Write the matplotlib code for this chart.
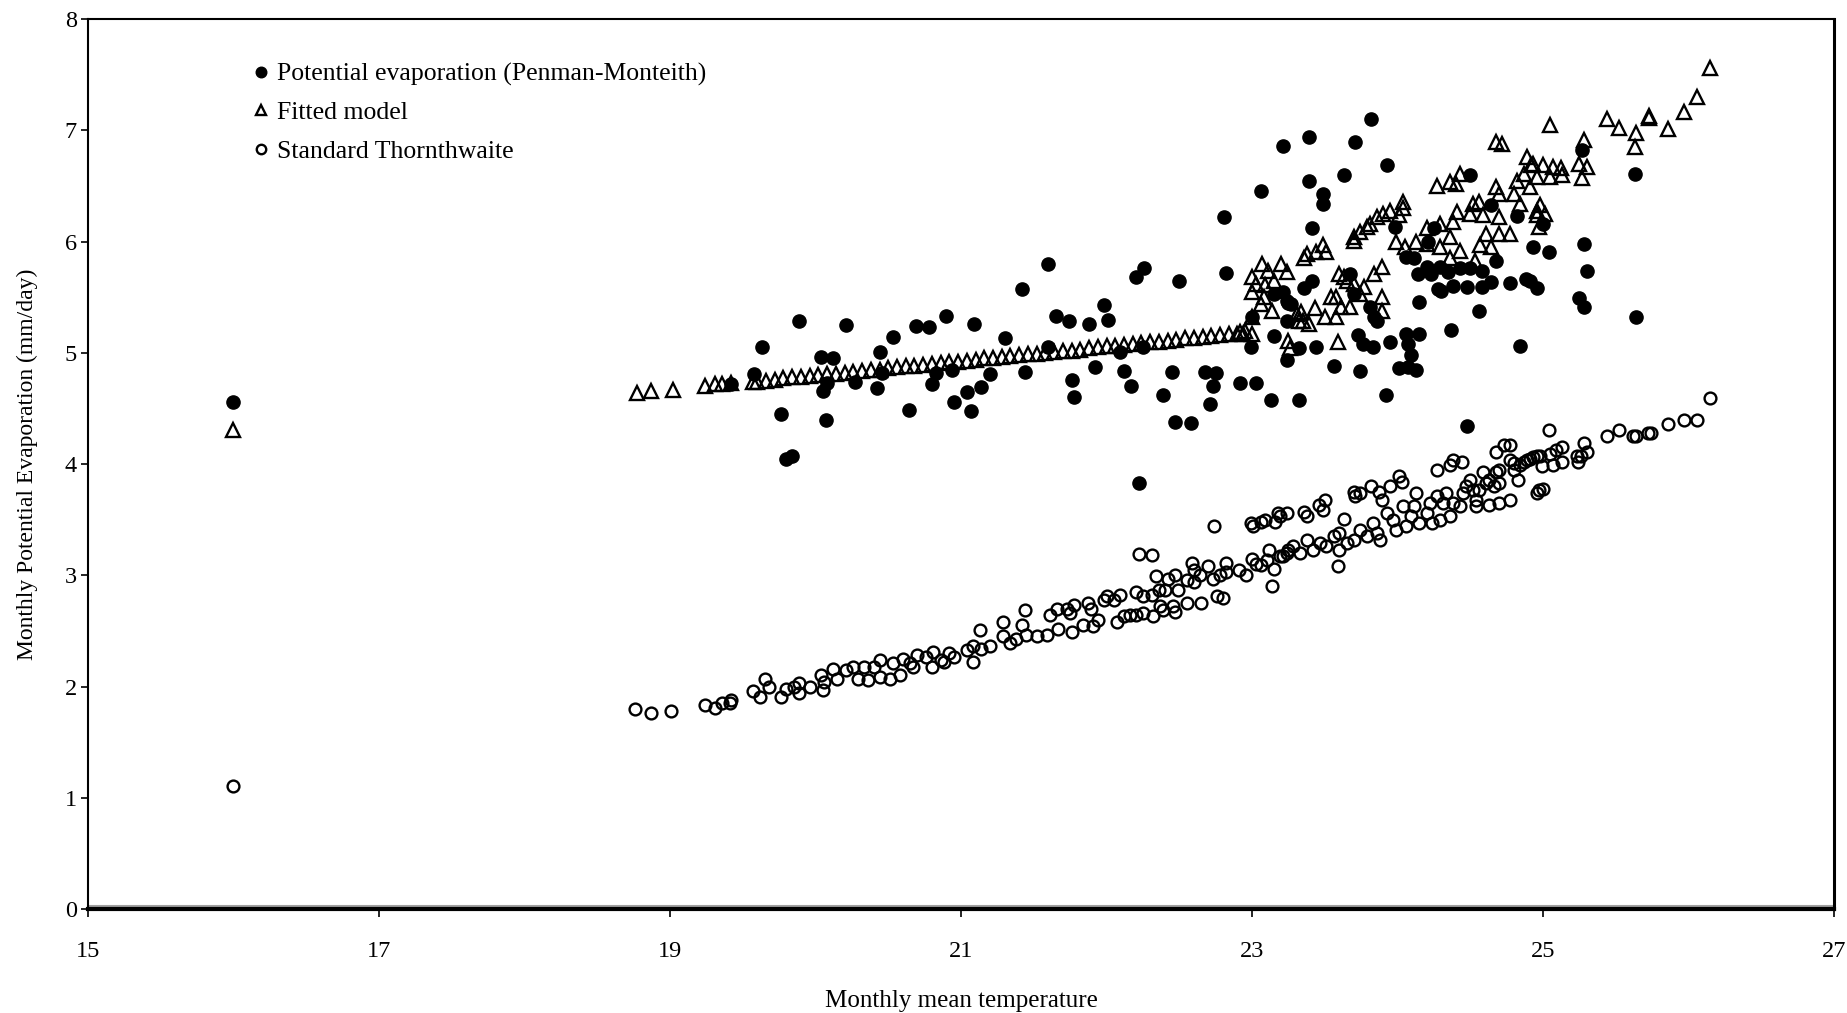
import matplotlib
matplotlib.use("Agg")
import matplotlib.pyplot as plt

plt.rcParams["font.family"] = ["Liberation Serif", "DejaVu Serif"]

# Potential evaporation (Penman-Monteith)
pm_t = [16.00, 19.42, 19.58, 19.63, 19.76, 19.80, 19.84, 19.89, 20.04, 20.05,
        20.07, 20.08, 20.12, 20.21, 20.27, 20.42, 20.44, 20.46, 20.53, 20.64,
        20.69, 20.78, 20.80, 20.83, 20.90, 20.94, 20.95, 21.04, 21.07, 21.09,
        21.14, 21.20, 21.30, 21.42, 21.44, 21.60, 21.60, 21.65, 21.74, 21.76,
        21.78, 21.88, 21.92, 21.98, 22.01, 22.09, 22.12, 22.17, 22.20, 22.22,
        22.25, 22.26, 22.39, 22.45, 22.47, 22.50, 22.58, 22.68, 22.71, 22.73,
        22.75, 22.81, 22.82, 22.92, 22.99, 23.00, 23.03, 23.06, 23.13, 23.15,
        23.15, 23.21, 23.21, 23.24, 23.24, 23.24, 23.25, 23.27, 23.32, 23.32,
        23.36, 23.39, 23.39, 23.41, 23.41, 23.44, 23.49, 23.49, 23.56, 23.63,
        23.67, 23.70, 23.71, 23.73, 23.74, 23.76, 23.81, 23.82, 23.83, 23.84,
        23.86, 23.92, 23.93, 23.95, 23.98, 24.01, 24.06, 24.06, 24.07, 24.07,
        24.09, 24.11, 24.13, 24.14, 24.15, 24.15, 24.20, 24.21, 24.23, 24.25,
        24.28, 24.29, 24.30, 24.35, 24.37, 24.38, 24.43, 24.48, 24.48, 24.50,
        24.50, 24.56, 24.58, 24.58, 24.64, 24.64, 24.68, 24.77, 24.82, 24.84,
        24.88, 24.91, 24.93, 24.96, 25.00, 25.04, 25.25, 25.27, 25.28, 25.28,
        25.30, 25.63, 25.64]
pm_e = [4.56, 4.72, 4.81, 5.05, 4.45, 4.05, 4.07, 5.29, 4.96, 4.66,
        4.40, 4.73, 4.95, 5.25, 4.74, 4.68, 5.01, 4.82, 5.14, 4.49,
        5.24, 5.23, 4.72, 4.82, 5.33, 4.85, 4.56, 4.65, 4.48, 5.26,
        4.69, 4.81, 5.13, 5.57, 4.83, 5.80, 5.05, 5.33, 5.29, 4.76,
        4.60, 5.26, 4.87, 5.43, 5.30, 5.01, 4.84, 4.70, 5.68, 3.83,
        5.05, 5.76, 4.62, 4.83, 4.38, 5.65, 4.37, 4.83, 4.54, 4.70,
        4.82, 6.22, 5.72, 4.73, 5.05, 5.32, 4.73, 6.46, 4.58, 5.15,
        5.53, 5.55, 6.86, 5.47, 5.29, 4.94, 5.45, 5.44, 4.58, 5.04,
        5.58, 6.94, 6.55, 5.65, 6.12, 5.05, 6.43, 6.34, 4.88, 6.60,
        5.71, 5.53, 6.90, 5.16, 4.84, 5.08, 5.41, 7.10, 5.05, 5.32,
        5.29, 4.62, 6.69, 5.10, 6.13, 4.86, 5.17, 5.86, 5.08, 4.87,
        4.98, 5.85, 4.85, 5.71, 5.17, 5.46, 5.77, 6.00, 5.71, 6.12,
        5.57, 5.77, 5.56, 5.73, 5.21, 5.60, 5.76, 5.59, 4.34, 5.76,
        6.60, 5.38, 5.74, 5.59, 5.64, 6.33, 5.83, 5.63, 6.23, 5.06,
        5.66, 5.65, 5.95, 5.58, 6.16, 5.91, 5.49, 6.82, 5.98, 5.41,
        5.74, 6.61, 5.32]

# Fitted model
fm_t = [16.00, 18.77, 18.87, 19.02, 19.24, 19.31, 19.36, 19.42, 19.57,
        19.60, 19.66, 19.72, 19.78, 19.84, 19.90, 19.96, 20.02, 20.08, 20.14,
        20.20, 20.26, 20.32, 20.38, 20.44, 20.50, 20.56, 20.62, 20.68, 20.74,
        20.80, 20.86, 20.92, 20.98, 21.04, 21.10, 21.16, 21.22, 21.28, 21.34,
        21.40, 21.46, 21.52, 21.58, 21.64, 21.70, 21.76, 21.82, 21.88, 21.94,
        22.00, 22.06, 22.12, 22.18, 22.24, 22.30, 22.36, 22.42, 22.48, 22.54,
        22.60, 22.66, 22.72, 22.78, 22.84, 22.90, 22.92, 22.95, 23.00,
        22.94, 23.00, 23.00, 23.00, 23.03, 23.06, 23.07, 23.08, 23.09, 23.11,
        23.14, 23.15, 23.20, 23.24, 23.25, 23.26, 23.31, 23.32, 23.34, 23.35,
        23.36, 23.38, 23.39, 23.43, 23.44, 23.49, 23.50, 23.51, 23.54, 23.58,
        23.58, 23.59, 23.60, 23.61, 23.63, 23.65, 23.67, 23.70, 23.70, 23.70,
        23.74, 23.74, 23.77, 23.79, 23.81, 23.84, 23.86, 23.89, 23.89, 23.89,
        23.90, 23.95, 23.99, 24.01, 24.04, 24.04, 24.05, 24.13, 24.20, 24.20,
        24.27, 24.29, 24.29, 24.36, 24.36, 24.36, 24.38, 24.40, 24.41, 24.43,
        24.43, 24.50, 24.52, 24.53, 24.56, 24.57, 24.59, 24.61, 24.64, 24.68,
        24.68, 24.70, 24.70, 24.70, 24.72, 24.77, 24.80, 24.82, 24.84, 24.87,
        24.89, 24.91, 24.92, 24.93, 24.96, 24.96, 24.96, 24.97, 24.98, 25.00,
        25.01, 25.05, 25.05, 25.07, 25.12, 25.13, 25.25, 25.27, 25.28, 25.30,
        25.44, 25.52, 25.63, 25.64, 25.73, 25.73, 25.86, 25.97, 26.06, 26.15]
fm_e = [4.31, 4.64, 4.66, 4.67, 4.70, 4.72, 4.72, 4.73, 4.74,
        4.74, 4.75, 4.76, 4.77, 4.78, 4.78, 4.79, 4.80, 4.81, 4.81,
        4.82, 4.83, 4.84, 4.85, 4.85, 4.86, 4.87, 4.88, 4.88, 4.89,
        4.90, 4.91, 4.92, 4.92, 4.93, 4.94, 4.95, 4.95, 4.96, 4.97,
        4.98, 4.99, 4.99, 5.00, 5.01, 5.02, 5.02, 5.03, 5.04, 5.05,
        5.06, 5.06, 5.07, 5.08, 5.09, 5.10, 5.10, 5.11, 5.12, 5.13,
        5.13, 5.14, 5.15, 5.16, 5.17, 5.17, 5.19, 5.20, 5.17,
        5.17, 5.32, 5.55, 5.68, 5.62, 5.44, 5.80, 5.50, 5.61, 5.74,
        5.38, 5.65, 5.80, 5.73, 5.11, 5.04, 5.35, 5.29, 5.37, 5.29,
        5.85, 5.89, 5.26, 5.40, 5.91, 5.97, 5.32, 5.91, 5.50, 5.50,
        5.32, 5.10, 5.71, 5.41, 5.68, 5.65, 5.41, 5.62, 6.04, 6.01,
        6.09, 5.53, 5.59, 6.13, 6.16, 5.71, 6.22, 5.77, 5.50, 5.38,
        6.25, 6.28, 6.00, 6.24, 6.36, 6.30, 5.95, 6.00, 5.98, 6.12,
        6.50, 5.95, 6.16, 6.54, 6.04, 5.85, 6.18, 6.52, 6.27, 6.61,
        5.92, 6.25, 6.34, 5.83, 6.36, 5.97, 6.24, 6.07, 5.95, 6.49,
        6.90, 6.43, 6.22, 6.07, 6.88, 6.07, 6.43, 6.55, 6.34, 6.61,
        6.76, 6.49, 6.69, 6.70, 6.28, 6.58, 6.24, 6.13, 6.33, 6.69,
        6.25, 7.05, 6.58, 6.67, 6.66, 6.60, 6.70, 6.57, 6.91, 6.67,
        7.10, 7.02, 6.85, 6.98, 7.13, 7.11, 7.01, 7.17, 7.30, 7.56]

# Standard Thornthwaite
th_t = [16.00, 18.76, 18.87, 19.01, 19.24, 19.31, 19.36, 19.41, 19.42, 19.57,
        19.62, 19.65, 19.68, 19.76, 19.80, 19.85, 19.89, 19.89, 19.96, 20.04,
        20.06, 20.05, 20.12, 20.15, 20.21, 20.26, 20.29, 20.33, 20.36, 20.40,
        20.44, 20.44, 20.51, 20.53, 20.58, 20.60, 20.65, 20.67, 20.70, 20.76,
        20.80, 20.81, 20.86, 20.88, 20.92, 20.95, 21.04, 21.08, 21.08, 21.13,
        21.14, 21.20, 21.29, 21.29, 21.34, 21.38, 21.42, 21.44, 21.45, 21.52,
        21.59, 21.61, 21.66, 21.67, 21.73, 21.75, 21.76, 21.78, 21.84, 21.87,
        21.89, 21.91, 21.94, 21.98, 22.00, 22.05, 22.07, 22.09, 22.12, 22.16,
        22.20, 22.20, 22.22, 22.25, 22.25, 22.31, 22.31, 22.32, 22.34, 22.36,
        22.37, 22.39, 22.40, 22.42, 22.46, 22.47, 22.47, 22.49, 22.55, 22.55,
        22.59, 22.60, 22.60, 22.64, 22.65, 22.70, 22.73, 22.74, 22.76, 22.78,
        22.80, 22.82, 22.82, 22.91, 22.96, 22.99, 23.00, 23.01, 23.03, 23.06,
        23.06, 23.09, 23.10, 23.12, 23.14, 23.15, 23.16, 23.18, 23.19, 23.19,
        23.21, 23.24, 23.24, 23.25, 23.28, 23.33, 23.36, 23.38, 23.38, 23.42,
        23.46, 23.47, 23.49, 23.50, 23.51, 23.56, 23.59, 23.60, 23.60, 23.63,
        23.65, 23.70, 23.70, 23.71, 23.74, 23.74, 23.79, 23.82, 23.83, 23.86,
        23.87, 23.88, 23.89, 23.93, 23.95, 23.97, 23.99, 24.01, 24.03, 24.04,
        24.06, 24.09, 24.11, 24.13, 24.15, 24.20, 24.22, 24.24, 24.27, 24.27,
        24.29, 24.31, 24.33, 24.36, 24.36, 24.38, 24.38, 24.43, 24.44, 24.45,
        24.47, 24.50, 24.52, 24.54, 24.54, 24.56, 24.59, 24.61, 24.63, 24.63,
        24.66, 24.68, 24.68, 24.70, 24.70, 24.70, 24.73, 24.77, 24.77, 24.77,
        24.80, 24.80, 24.83, 24.84, 24.87, 24.89, 24.91, 24.93, 24.96, 24.96,
        24.97, 24.98, 24.99, 25.00, 25.04, 25.05, 25.07, 25.09, 25.13, 25.13,
        25.23, 25.24, 25.26, 25.28, 25.30, 25.44, 25.52, 25.62, 25.64, 25.72,
        25.74, 25.86, 25.97, 26.06, 26.15]
th_e = [1.11, 1.80, 1.76, 1.78, 1.83, 1.81, 1.85, 1.85, 1.88, 1.96,
        1.91, 2.07, 2.00, 1.91, 1.98, 2.00, 1.94, 2.03, 2.00, 2.10,
        2.04, 1.97, 2.16, 2.07, 2.15, 2.18, 2.07, 2.18, 2.06, 2.18,
        2.24, 2.09, 2.07, 2.21, 2.10, 2.25, 2.21, 2.18, 2.28, 2.27,
        2.18, 2.31, 2.24, 2.22, 2.30, 2.27, 2.33, 2.22, 2.36, 2.51,
        2.34, 2.36, 2.58, 2.45, 2.39, 2.43, 2.55, 2.69, 2.46, 2.45,
        2.46, 2.64, 2.70, 2.52, 2.70, 2.66, 2.49, 2.73, 2.55, 2.75,
        2.70, 2.54, 2.60, 2.78, 2.81, 2.78, 2.58, 2.82, 2.63, 2.64,
        2.64, 2.85, 3.19, 2.81, 2.66, 3.18, 2.82, 2.63, 2.99, 2.87,
        2.72, 2.69, 2.87, 2.97, 2.72, 3.00, 2.67, 2.87, 2.96, 2.75,
        3.11, 2.94, 3.05, 3.00, 2.75, 3.08, 2.97, 3.44, 2.81, 3.00,
        2.80, 3.11, 3.03, 3.05, 3.00, 3.47, 3.15, 3.44, 3.10, 3.48,
        3.09, 3.50, 3.14, 3.23, 2.90, 3.06, 3.48, 3.56, 3.17, 3.53,
        3.17, 3.56, 3.20, 3.23, 3.26, 3.20, 3.57, 3.32, 3.53, 3.23,
        3.63, 3.29, 3.59, 3.68, 3.26, 3.35, 3.08, 3.38, 3.23, 3.51,
        3.29, 3.32, 3.75, 3.71, 3.41, 3.74, 3.35, 3.80, 3.47, 3.38,
        3.75, 3.32, 3.68, 3.56, 3.80, 3.50, 3.41, 3.89, 3.84, 3.62,
        3.44, 3.53, 3.62, 3.74, 3.47, 3.56, 3.65, 3.47, 3.71, 3.95,
        3.50, 3.65, 3.74, 3.53, 3.99, 3.65, 4.04, 3.62, 4.02, 3.74,
        3.80, 3.86, 3.77, 3.68, 3.62, 3.77, 3.93, 3.83, 3.63, 3.86,
        3.80, 3.93, 4.11, 3.83, 3.65, 3.95, 4.17, 4.17, 3.68, 4.04,
        4.01, 3.95, 3.86, 3.99, 4.02, 4.04, 4.05, 4.06, 3.74, 4.07,
        3.77, 4.07, 3.98, 3.78, 4.31, 4.09, 3.99, 4.13, 4.15, 4.02,
        4.07, 4.02, 4.07, 4.19, 4.11, 4.25, 4.31, 4.25, 4.25, 4.28,
        4.28, 4.36, 4.40, 4.40, 4.59]

x_ticks = [15, 17, 19, 21, 23, 25, 27]
y_ticks = [0, 1, 2, 3, 4, 5, 6, 7, 8]

fig = plt.figure(figsize=(18.47, 10.13), dpi=100)
ax = fig.add_axes([0.0476, 0.1027, 0.9454, 0.8783])

ax.plot(pm_t, pm_e, "o", color="black", ms=9.5, mec="black",
        label="Potential evaporation (Penman-Monteith)")
ax.plot(fm_t, fm_e, "^", mfc="none", mec="black", ms=9.5, mew=1.7,
        label="Fitted model")
ax.plot(th_t, th_e, "o", mfc="none", mec="black", ms=8.5, mew=1.7,
        label="Standard Thornthwaite")

ax.set_xlim(15, 27)
ax.set_ylim(0, 8)
ax.set_xticks(x_ticks)
ax.set_yticks(y_ticks)
ax.tick_params(axis="x", direction="out", length=6, width=1.2, pad=17, labelsize=17.5)
ax.tick_params(axis="y", direction="out", length=5, width=1.2, pad=3, labelsize=17.5)

for side in ["left", "top"]:
    ax.spines[side].set_linewidth(1.5)
ax.spines["right"].set_linewidth(2.2)
ax.spines["bottom"].set_linewidth(3)
ax.axhline(0.03, color="#a0a0a0", lw=1.5, zorder=0)

ax.set_xlabel("Monthly mean temperature", fontsize=18, labelpad=20)
ax.set_ylabel("Monthly Potential Evaporation (mm/day)", fontsize=17, labelpad=19)

ax.legend(loc="upper left", bbox_to_anchor=(0.0936, 0.951), frameon=False,
          fontsize=18.5, handlelength=0.75, handletextpad=0.25, labelspacing=0.59,
          borderpad=0, borderaxespad=0, markerscale=0.8)

fig.savefig("out.png", dpi=100)
